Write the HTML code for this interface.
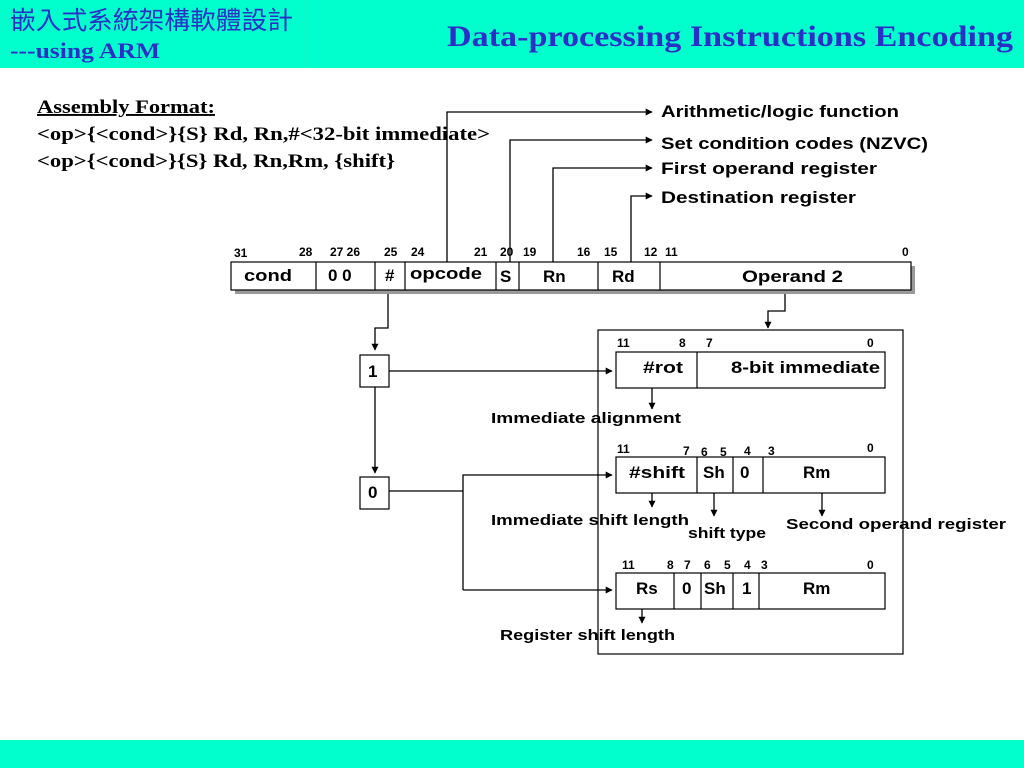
<!DOCTYPE html>
<html><head><meta charset="utf-8"><style>
html,body{margin:0;padding:0;background:#fff;}
svg{display:block;}
</style></head><body>
<svg width="1024" height="768" viewBox="0 0 1024 768" xmlns="http://www.w3.org/2000/svg">
<defs>
<marker id="ar" viewBox="0 0 10 10" refX="9" refY="5" markerWidth="7" markerHeight="7" orient="auto" markerUnits="userSpaceOnUse">
<path d="M0,0 L10,5 L0,10 z" fill="#000"/></marker>
</defs>
<rect x="0" y="0" width="1024" height="68" fill="#00FFCC"/>
<line x1="307" y1="0" x2="307" y2="68" stroke="#22EEBB" stroke-width="1"/>
<rect x="0" y="740" width="1024" height="28" fill="#00FFCC"/>
<g font-family="'Liberation Serif','Noto Serif CJK SC',serif" fill="#2B2FC8">
<text x="10" y="29" font-size="25" textLength="283" lengthAdjust="spacingAndGlyphs" font-family="'Liberation Sans','Noto Sans CJK TC',sans-serif">嵌入式系統架構軟體設計</text>
<text x="10" y="58" font-size="22" font-weight="bold" textLength="150" lengthAdjust="spacingAndGlyphs">---using ARM</text>
<text x="447" y="46" font-size="30" font-weight="bold" textLength="566" lengthAdjust="spacingAndGlyphs">Data-processing Instructions Encoding</text>
</g>
<g font-family="'Liberation Serif',serif" font-weight="bold" font-size="19" fill="#000">
<text x="37" y="113" text-decoration="underline" textLength="178" lengthAdjust="spacingAndGlyphs">Assembly Format:</text>
<text x="37" y="140" textLength="453" lengthAdjust="spacingAndGlyphs">&lt;op&gt;{&lt;cond&gt;}{S} Rd, Rn,#&lt;32-bit immediate&gt;</text>
<text x="37" y="167" textLength="358" lengthAdjust="spacingAndGlyphs">&lt;op&gt;{&lt;cond&gt;}{S} Rd, Rn,Rm, {shift}</text>
</g>
<g stroke="#000" stroke-width="1.3" fill="none">
<polyline points="447,262 447,112 652,112" marker-end="url(#ar)"/>
<polyline points="510,262 510,140 652,140" marker-end="url(#ar)"/>
<polyline points="553,262 553,168 652,168" marker-end="url(#ar)"/>
<polyline points="631,262 631,196 652,196" marker-end="url(#ar)"/>
</g>
<g font-family="'Liberation Sans',sans-serif" font-weight="bold" font-size="17" fill="#000" lengthAdjust="spacingAndGlyphs">
<text x="661" y="117" textLength="238" lengthAdjust="spacingAndGlyphs">Arithmetic/logic function</text>
<text x="661" y="149" textLength="267" lengthAdjust="spacingAndGlyphs">Set condition codes (NZVC)</text>
<text x="661" y="174" textLength="216" lengthAdjust="spacingAndGlyphs">First operand register</text>
<text x="661" y="203" textLength="195" lengthAdjust="spacingAndGlyphs">Destination register</text>
</g>
<rect x="235" y="266" width="680" height="28" fill="#999"/>
<rect x="231" y="262" width="680" height="28" fill="#fff" stroke="#000" stroke-width="1.2"/>
<g stroke="#000" stroke-width="1.2">
<line x1="316" y1="262" x2="316" y2="290"/><line x1="375" y1="262" x2="375" y2="290"/>
<line x1="405" y1="262" x2="405" y2="290"/><line x1="496" y1="262" x2="496" y2="290"/>
<line x1="519" y1="262" x2="519" y2="290"/><line x1="598" y1="262" x2="598" y2="290"/>
<line x1="660" y1="262" x2="660" y2="290"/>
</g>
<g font-family="'Liberation Sans',sans-serif" font-weight="bold" font-size="12" fill="#000">
<text x="234" y="257">31</text><text x="299" y="256">28</text><text x="330" y="256">27 26</text>
<text x="384" y="256">25</text><text x="411" y="256">24</text><text x="474" y="256">21</text>
<text x="500" y="256">20</text><text x="523" y="256">19</text><text x="577" y="256">16</text>
<text x="604" y="256">15</text><text x="644" y="256">12</text><text x="665" y="256">11</text>
<text x="902" y="256">0</text>
</g>
<g font-family="'Liberation Sans',sans-serif" font-weight="bold" font-size="17" fill="#000">
<text x="244" y="281" textLength="48" lengthAdjust="spacingAndGlyphs">cond</text><text x="328" y="281">0  0</text><text x="385" y="281">#</text>
<text x="410" y="279" textLength="72" lengthAdjust="spacingAndGlyphs">opcode</text><text x="500" y="282">S</text><text x="543" y="282">Rn</text>
<text x="612" y="282">Rd</text><text x="742" y="282" textLength="101" lengthAdjust="spacingAndGlyphs">Operand 2</text>
</g>
<g stroke="#000" stroke-width="1.3" fill="none">
<polyline points="388,294 388,328 375,328 375,350" marker-end="url(#ar)"/>
<line x1="375" y1="387" x2="375" y2="473" marker-end="url(#ar)"/>
<line x1="389" y1="371" x2="612" y2="371" marker-end="url(#ar)"/>
<polyline points="389,491 463,491"/>
<polyline points="463,590 463,475 612,475" marker-end="url(#ar)"/>
<line x1="463" y1="590" x2="612" y2="590" marker-end="url(#ar)"/>
<polyline points="785,294 785,311 768,311 768,328" marker-end="url(#ar)"/>
</g>
<rect x="360" y="355" width="29" height="32" fill="#fff" stroke="#000" stroke-width="1.2"/>
<rect x="360" y="477" width="29" height="32" fill="#fff" stroke="#000" stroke-width="1.2"/>
<rect x="598" y="330" width="305" height="324" fill="none" stroke="#000" stroke-width="1.2"/>
<g font-family="'Liberation Sans',sans-serif" font-weight="bold" font-size="17" fill="#000">
<text x="368" y="377">1</text><text x="368" y="498">0</text>
</g>
<g stroke="#000" stroke-width="1.2" fill="#fff">
<rect x="616" y="352" width="269" height="36"/>
<line x1="697" y1="352" x2="697" y2="388"/>
<rect x="616" y="457" width="269" height="36"/>
<line x1="697" y1="457" x2="697" y2="493"/><line x1="733" y1="457" x2="733" y2="493"/><line x1="763" y1="457" x2="763" y2="493"/>
<rect x="616" y="573" width="269" height="36"/>
<line x1="674" y1="573" x2="674" y2="609"/><line x1="701" y1="573" x2="701" y2="609"/>
<line x1="733" y1="573" x2="733" y2="609"/><line x1="759" y1="573" x2="759" y2="609"/>
</g>
<g stroke="#000" stroke-width="1.3" fill="none">
<line x1="652" y1="388" x2="652" y2="409" marker-end="url(#ar)"/>
<line x1="652" y1="493" x2="652" y2="507" marker-end="url(#ar)"/>
<line x1="714" y1="493" x2="714" y2="516" marker-end="url(#ar)"/>
<line x1="822" y1="493" x2="822" y2="516" marker-end="url(#ar)"/>
<line x1="642" y1="609" x2="642" y2="623" marker-end="url(#ar)"/>
</g>
<g font-family="'Liberation Sans',sans-serif" font-weight="bold" font-size="12" fill="#000">
<text x="617" y="347">11</text><text x="679" y="347">8</text><text x="706" y="347">7</text><text x="867" y="347">0</text>
<text x="617" y="453">11</text><text x="683" y="455">7</text><text x="701" y="456">6</text><text x="720" y="456">5</text>
<text x="744" y="455">4</text><text x="768" y="455">3</text><text x="867" y="452">0</text>
<text x="622" y="569">11</text><text x="667" y="569">8</text><text x="684" y="569">7</text><text x="704" y="569">6</text>
<text x="724" y="569">5</text><text x="744" y="569">4</text><text x="761" y="569">3</text><text x="867" y="569">0</text>
</g>
<g font-family="'Liberation Sans',sans-serif" font-weight="bold" font-size="17" fill="#000">
<text x="643" y="373" textLength="40" lengthAdjust="spacingAndGlyphs">#rot</text><text x="731" y="373" textLength="149" lengthAdjust="spacingAndGlyphs">8-bit immediate</text>
<text x="629" y="478" textLength="56" lengthAdjust="spacingAndGlyphs">#shift</text><text x="703" y="478">Sh</text><text x="740" y="478">0</text><text x="803" y="478">Rm</text>
<text x="636" y="594">Rs</text><text x="682" y="594">0</text><text x="704" y="594">Sh</text><text x="742" y="594">1</text><text x="803" y="594">Rm</text>
</g>
<g font-family="'Liberation Sans',sans-serif" font-weight="bold" font-size="15" fill="#000">
<text x="491" y="423" textLength="190" lengthAdjust="spacingAndGlyphs">Immediate alignment</text>
<text x="491" y="525" textLength="198" lengthAdjust="spacingAndGlyphs">Immediate shift length</text>
<text x="688" y="538" textLength="78" lengthAdjust="spacingAndGlyphs">shift type</text>
<text x="786" y="529" textLength="220" lengthAdjust="spacingAndGlyphs">Second operand register</text>
<text x="500" y="640" textLength="175" lengthAdjust="spacingAndGlyphs">Register shift length</text>
</g>
</svg>
</body></html>
